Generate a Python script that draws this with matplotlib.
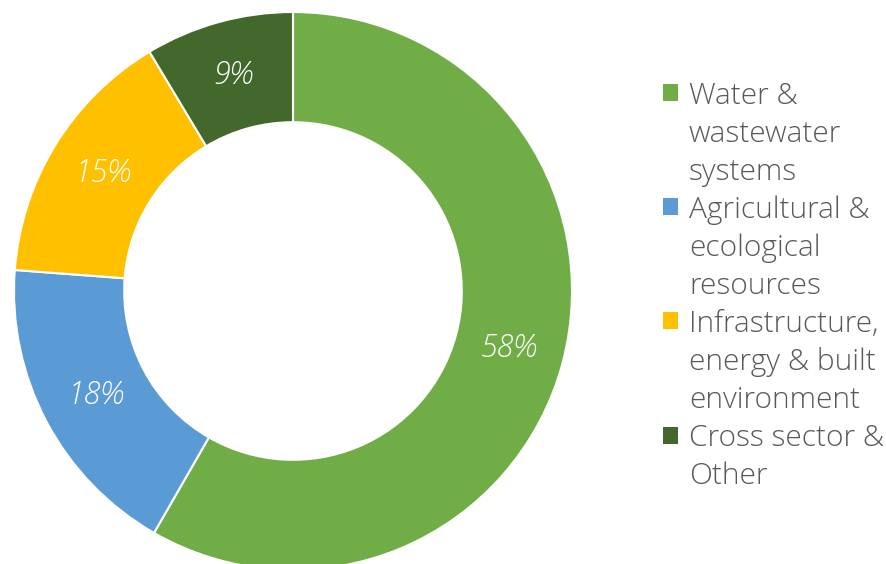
import matplotlib
matplotlib.use('Agg')
import matplotlib.pyplot as plt
import matplotlib.patches as mpatches

# ============================================================
# Data
# ============================================================
categories = ['Water &\nwastewater\nsystems',
              'Agricultural &\necological\nresources',
              'Infrastructure,\nenergy & built\nenvironment',
              'Cross sector &\nOther']
values = [58.3, 17.9, 15.2, 8.6]
colors = ['#70AD47', '#5B9BD5', '#FFC000', '#43682B']

plt.rcParams['font.family'] = ['Open Sans', 'DejaVu Sans']

W, H = 886, 564
fig = plt.figure(figsize=(W / 100, H / 100), dpi=100)

# pie centre (293, 291) px, outer radius 279 px
cx, cy, R = 293, 291, 279
ax = fig.add_axes([(cx - R) / W, (H - cy - R) / H, 2 * R / W, 2 * R / H])

wedges, _, autotexts = ax.pie(
    values, colors=colors, startangle=90, counterclock=False,
    autopct='%.0f%%', pctdistance=0.80, radius=1,
    wedgeprops=dict(width=0.395, edgecolor='white', linewidth=1.5),
)
for t in autotexts:
    t.set_color('white')
    t.set_fontsize(22)
    t.set_fontstyle('italic')
    t.set_fontweight('light')
ax.set_xlim(-1, 1)
ax.set_ylim(-1, 1)
ax.set_aspect('equal')
ax.axis('off')

# legend: one row per text line, colour square only on first line of each entry
handles, labels = [], []
for w, cat in zip(wedges, categories):
    lines = cat.split('\n')
    handles.append(mpatches.Patch(facecolor=w.get_facecolor(), edgecolor='none'))
    labels.append(lines[0])
    for extra in lines[1:]:
        handles.append(mpatches.Patch(facecolor='none', edgecolor='none'))
        labels.append(extra)

leg = fig.legend(handles, labels, loc='upper left',
                 bbox_to_anchor=(663 / W, 1 - 81 / H),
                 frameon=False, fontsize=21.5, borderpad=0, borderaxespad=0,
                 handlelength=0.5, handleheight=0.5, handletextpad=0.37,
                 labelspacing=0.285)
for t in leg.get_texts():
    t.set_color('#595959')
    t.set_fontweight('light')

fig.savefig('out.png', dpi=100)
